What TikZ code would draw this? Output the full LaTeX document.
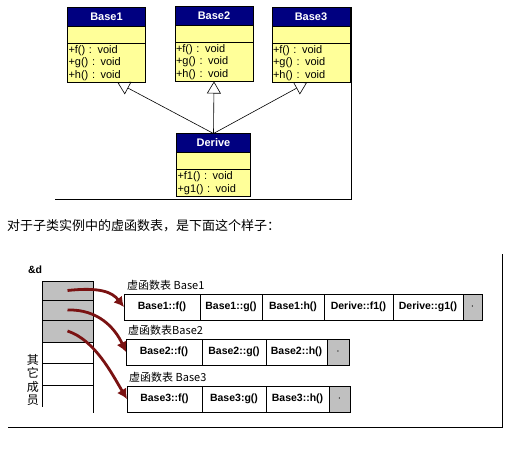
\documentclass[tikz,border=0pt]{standalone}
\usepackage{fontspec}
\setsansfont{Liberation Sans}
\newfontfamily\cjk{Noto Sans CJK SC}
\usetikzlibrary{
  arrows.meta,
  positioning
}
\definecolor{umlnavy}{RGB}{0,0,128}
\definecolor{umlyellow}{RGB}{255,255,153}
\definecolor{slotgray}{RGB}{192,192,192}
\definecolor{ptrred}{RGB}{122,18,18}
\tikzset{
  class head/.style={
    draw=black,
    fill=umlnavy,
    text=white,
    font=\sffamily\bfseries\fontsize{11}{13}\selectfont,
    minimum width=78pt,
    minimum height=19pt,
    inner sep=0pt,
    outer sep=0pt
  },
  class attr/.style={
    draw=black,
    fill=umlyellow,
    minimum width=78pt,
    minimum height=17pt,
    inner sep=0pt,
    outer sep=0pt
  },
  class ops/.style={
    draw=black,
    fill=umlyellow,
    font=\sffamily\fontsize{11}{12.5}\selectfont,
    text width=76pt,
    align=left,
    minimum height=39pt,
    inner sep=1pt,
    outer sep=0pt
  },
  inherit/.style={
    semithick,
    -{Triangle[open, length=12pt, width=14pt]}
  },
  frame line/.style={
    semithick
  },
  slot/.style={
    draw=black,
    minimum width=51pt,
    inner sep=0pt,
    outer sep=0pt
  },
  vcell/.style={
    draw=black,
    minimum height=26pt,
    inner sep=0pt,
    outer sep=0pt,
    font=\sffamily\bfseries\fontsize{10.5}{12}\selectfont
  },
  vend/.style={
    vcell,
    fill=slotgray,
    font=\fontsize{12}{12}\selectfont
  },
  vlabel/.style={
    inner sep=1pt,
    font=\cjk\fontsize{11}{13}\selectfont
  },
  ptr/.style={
    draw=ptrred,
    line width=2.8pt,
    -{Latex[length=10pt, width=11pt]}
  }
}
\begin{document}
\begin{tikzpicture}[x=1pt, y=-1pt]
  \useasboundingbox (0,0) rectangle (530,456);

  % ---------- 类图 ----------
  \node[class head] (b1head) at (106.5,17) {Base1};
  \node[class attr, below=0pt of b1head] (b1attr) {};
  \node[class ops, below=0pt of b1attr] (b1ops)
    {+f() : void\\+g() : void\\+h() : void};

  \node[class head] (b2head) at (214,16) {Base2};
  \node[class attr, below=0pt of b2head] (b2attr) {};
  \node[class ops, below=0pt of b2attr] (b2ops)
    {+f() : void\\+g() : void\\+h() : void};

  \node[class head] (b3head) at (311,17) {Base3};
  \node[class attr, below=0pt of b3head] (b3attr) {};
  \node[class ops, below=0pt of b3attr] (b3ops)
    {+f() : void\\+g() : void\\+h() : void};

  \node[class head, minimum width=74pt] (dhead) at (213.5,143) {Derive};
  \node[class attr, minimum width=74pt, below=0pt of dhead] (dattr) {};
  \node[class ops, text width=72pt, minimum height=27pt,
        below=0pt of dattr] (dops)
    {+f1() : void\\+g1() : void};

  % 继承
  \draw[inherit] (dhead.north) -- ([xshift=11pt]b1ops.south);
  \draw[inherit] (dhead.north) -- (b2ops.south);
  \draw[inherit] (dhead.north) -- ([xshift=-4pt]b3ops.south);

  % 截图边框
  \draw[frame line] (351,7) -- (351,199) -- (55,199);

  % ---------- 说明 ----------
  \node[anchor=west, inner sep=0pt,
        font=\cjk\fontsize{13}{15}\selectfont] (caption) at (7,226)
    {对于子类实例中的虚函数表，是下面这个样子：};

  % ---------- 对象 d ----------
  \node[font=\sffamily\bfseries\fontsize{10.5}{12}\selectfont] (addr)
    at (35,270) {\&d};

  \node[slot, fill=slotgray, minimum height=19pt] (slot1) at (67.5,290.5) {};
  \node[slot, fill=slotgray, minimum height=20pt, below=0pt of slot1] (slot2) {};
  \node[slot, fill=slotgray, minimum height=22pt, below=0pt of slot2] (slot3) {};
  \node[slot, minimum height=21pt, below=0pt of slot3] (member1) {};
  \node[slot, minimum height=22pt, below=0pt of member1] (member2) {};
  \draw (member2.south west) -- ++(0,22);
  \draw (member2.south east) -- ++(0,28);

  \node[align=center, inner sep=0pt,
        font=\cjk\fontsize{12}{13.5}\selectfont] (others) at (33,380)
    {其\\它\\成\\员};

  % ---------- 虚函数表 Base1 ----------
  \node[vcell, minimum width=76pt, anchor=north west] (t1a) at (124,294) {Base1::f()};
  \node[vcell, minimum width=62pt, right=0pt of t1a] (t1b) {Base1::g()};
  \node[vcell, minimum width=62pt, right=0pt of t1b] (t1c) {Base1:h()};
  \node[vcell, minimum width=69pt, right=0pt of t1c] (t1d) {Derive::f1()};
  \node[vcell, minimum width=70pt, right=0pt of t1d] (t1e) {Derive::g1()};
  \node[vend, minimum width=19pt, right=0pt of t1e] (t1end) {$\cdot$};
  \node[vlabel, above right=2pt and 2pt of t1a.north west] (t1label)
    {虚函数表 Base1};

  % ---------- 虚函数表 Base2 ----------
  \node[vcell, minimum width=76pt, anchor=north west] (t2a) at (126,339) {Base2::f()};
  \node[vcell, minimum width=64pt, right=0pt of t2a] (t2b) {Base2::g()};
  \node[vcell, minimum width=61pt, right=0pt of t2b] (t2c) {Base2::h()};
  \node[vend, minimum width=22pt, right=0pt of t2c] (t2end) {$\cdot$};
  \node[vlabel, above right=2pt and 1pt of t2a.north west] (t2label)
    {虚函数表Base2};

  % ---------- 虚函数表 Base3 ----------
  \node[vcell, minimum width=75pt, anchor=north west] (t3a) at (127,386) {Base3::f()};
  \node[vcell, minimum width=64pt, right=0pt of t3a] (t3b) {Base3:g()};
  \node[vcell, minimum width=63pt, right=0pt of t3b] (t3c) {Base3::h()};
  \node[vend, minimum width=21pt, right=0pt of t3c] (t3end) {$\cdot$};
  \node[vlabel, above right=2pt and 1pt of t3a.north west] (t3label)
    {虚函数表 Base3};

  % 虚表指针
  \draw[ptr] (slot1.center)
    .. controls (100,287) and (112,292) .. (t1a.west);
  \draw[ptr] (slot2.center)
    .. controls (98,309) and (115,328) .. (t2a.west);
  \draw[ptr] (slot3.center)
    .. controls (95,340) and (112,374) .. (t3a.west);

  % 截图边框
  \draw[frame line] (502,254) -- (502,427) -- (8,427);

\end{tikzpicture}
\end{document}
